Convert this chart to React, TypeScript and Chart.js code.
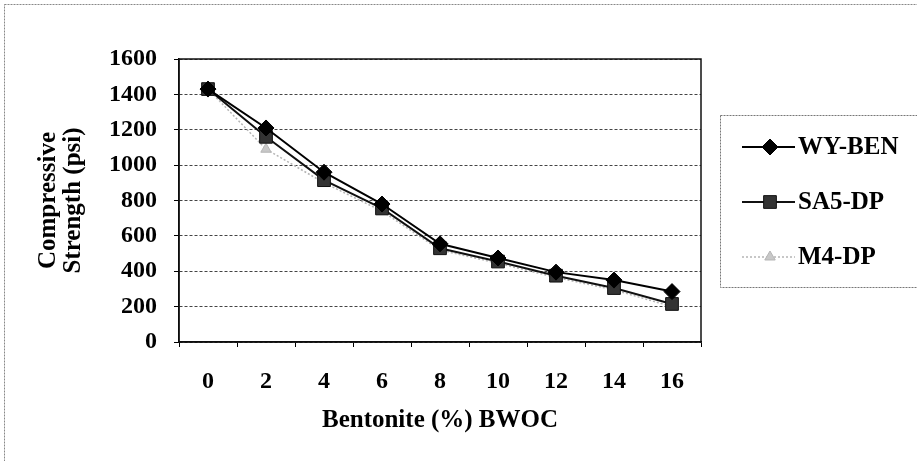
import React, { useEffect, useRef } from "react";
import { Chart, registerables } from "chart.js";

Chart.register(...registerables);

const categories = ["0", "2", "4", "6", "8", "10", "12", "14", "16"];
const wyBen = [1430, 1210, 960, 780, 555, 475, 395, 350, 285];
const sa5Dp = [1430, 1160, 915, 755, 530, 455, 375, 305, 215];
const m4Dp = [1430, 1090, 900, 740, 520, 445, 365, 295, 200];
const seriesNames = ["WY-BEN", "SA5-DP", "M4-DP"];
const yMin = 0;
const yMax = 1600;
const yStep = 200;
const xTitle = "Bentonite (%) BWOC";
const yTitle = ["Compressive", "Strength (psi)"];

const FONT = "'Liberation Serif', 'Times New Roman', serif";

function drawMarker(ctx: CanvasRenderingContext2D, style: string, r: number, x: number, y: number, fill: string, stroke: string) {
  ctx.save();
  ctx.fillStyle = fill;
  ctx.strokeStyle = stroke;
  ctx.lineWidth = 1;
  ctx.beginPath();
  if (style === "rectRot") {
    ctx.moveTo(x, y - r);
    ctx.lineTo(x + r, y);
    ctx.lineTo(x, y + r);
    ctx.lineTo(x - r, y);
    ctx.closePath();
  } else if (style === "rect") {
    const s = r * Math.SQRT1_2;
    ctx.rect(x - s, y - s, 2 * s, 2 * s);
  } else if (style === "triangle") {
    ctx.moveTo(x, y - r);
    ctx.lineTo(x + r * 0.87, y + r * 0.5);
    ctx.lineTo(x - r * 0.87, y + r * 0.5);
    ctx.closePath();
  }
  ctx.fill();
  ctx.stroke();
  ctx.restore();
}

const framePlugin = {
  id: "frame",
  beforeDraw(chart: any) {
    const ctx = chart.ctx;
    ctx.save();
    ctx.fillStyle = "#fff";
    ctx.fillRect(0, 0, chart.width, chart.height);
    ctx.strokeStyle = "#888";
    ctx.lineWidth = 1;
    ctx.setLineDash([2, 1]);
    ctx.strokeRect(4.5, 4.5, chart.width + 20, chart.height + 20);
    ctx.restore();
  },
  afterDraw(chart: any) {
    const { ctx, chartArea } = chart;
    ctx.save();
    ctx.strokeStyle = "#111";
    ctx.lineWidth = 1.5;
    ctx.setLineDash([]);
    ctx.strokeRect(chartArea.left, chartArea.top, chartArea.right - chartArea.left, chartArea.bottom - chartArea.top);
    ctx.restore();
  },
};

const legendPlugin = {
  id: "customLegend",
  afterDraw(chart: any) {
    const ctx = chart.ctx;
    const boxLeft = 720;
    const boxTop = 115;
    const boxBottom = 287;
    ctx.save();
    ctx.strokeStyle = "#777";
    ctx.lineWidth = 1;
    ctx.setLineDash([2, 1]);
    ctx.strokeRect(boxLeft + 0.5, boxTop + 0.5, 300, boxBottom - boxTop);
    ctx.setLineDash([]);
    const rows = [147, 202, 257];
    chart.data.datasets.forEach((ds: any, i: number) => {
      const y = rows[i];
      ctx.strokeStyle = ds.borderColor;
      ctx.lineWidth = ds.borderWidth;
      if (ds.borderDash) ctx.setLineDash(ds.borderDash);
      ctx.beginPath();
      ctx.moveTo(742, y);
      ctx.lineTo(795, y);
      ctx.stroke();
      ctx.setLineDash([]);
      const meta = chart.getDatasetMeta(i);
      const el = meta.data[0];
      if (el) {
        const opts = el.options;
        drawMarker(ctx, opts.pointStyle, opts.radius, 770, y, opts.backgroundColor, opts.borderColor);
      }
      ctx.fillStyle = "#000";
      ctx.font = `bold 25px ${FONT}`;
      ctx.textBaseline = "middle";
      ctx.textAlign = "left";
      ctx.fillText(ds.label, 798, y + 1);
    });
    ctx.restore();
  },
};

export default function App() {
  const ref = useRef<HTMLCanvasElement | null>(null);

  useEffect(() => {
    document.body.style.margin = "0";
    const canvas = ref.current;
    if (!canvas) return;
    const chart = new Chart(canvas, {
      type: "line",
      data: {
        labels: categories,
        datasets: [
          {
            label: seriesNames[0],
            data: wyBen,
            borderColor: "#000",
            backgroundColor: "#000",
            borderWidth: 2,
            pointStyle: "rectRot",
            pointRadius: 8,
            pointBorderWidth: 1,
            tension: 0,
          },
          {
            label: seriesNames[1],
            data: sa5Dp,
            borderColor: "#111",
            backgroundColor: "#333",
            borderWidth: 2,
            pointStyle: "rect",
            pointRadius: 9,
            pointBorderWidth: 1,
            tension: 0,
          },
          {
            label: seriesNames[2],
            data: m4Dp,
            borderColor: "#b5b5b5",
            backgroundColor: "#c8c8c8",
            borderWidth: 1.5,
            borderDash: [2, 2],
            pointStyle: "triangle",
            pointRadius: 6,
            pointBorderWidth: 1,
            tension: 0,
          },
        ],
      },
      options: {
        animation: false,
        responsive: false,
        layout: { padding: { left: 0, top: 59, right: 216, bottom: 0 } },
        plugins: {
          legend: { display: false },
          tooltip: { enabled: false },
        },
        scales: {
          x: {
            type: "category",
            offset: true,
            grid: {
              offset: true,
              drawOnChartArea: false,
              drawTicks: true,
              tickLength: 5,
              color: "#000",
            },
            border: { display: true, color: "#000", width: 1.5 },
            ticks: {
              color: "#000",
              padding: 20,
              maxRotation: 0,
              font: { family: FONT, size: 24, weight: "bold" },
            },
            title: {
              display: true,
              text: xTitle,
              color: "#000",
              padding: { top: 0, bottom: 25 },
              font: { family: FONT, size: 25, weight: "bold" },
            },
            afterFit: (s: any) => {
              s.height = 119;
            },
          },
          y: {
            min: yMin,
            max: yMax,
            grid: {
              color: "#444",
              lineWidth: 1,
              drawTicks: true,
              tickLength: 5,
              tickColor: "#000",
            },
            border: { display: true, color: "#000", width: 1.5, dash: [3, 2] },
            ticks: {
              stepSize: yStep,
              color: "#000",
              padding: 17,
              font: { family: FONT, size: 24, weight: "bold" },
              callback: (v: any) => String(v),
            },
            title: {
              display: true,
              text: yTitle,
              color: "#000",
              padding: { top: 36, bottom: 0 },
              font: { family: FONT, size: 25, weight: "bold", lineHeight: 1.0 },
            },
            afterFit: (s: any) => {
              s.width = 179;
            },
          },
        },
      },
      plugins: [framePlugin, legendPlugin],
    });
    return () => chart.destroy();
  }, []);

  return (
    <div style={{ width: 917, height: 461 }}>
      <canvas ref={ref} width={917} height={461} />
    </div>
  );
}
